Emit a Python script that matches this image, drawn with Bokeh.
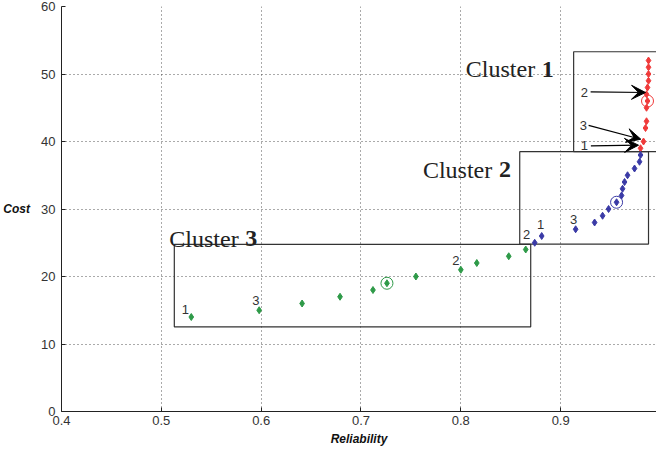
from bokeh.plotting import figure
from bokeh.models import ColumnDataSource, Arrow, VeeHead, FixedTicker
from bokeh.core.properties import value
from bokeh.embed import file_html
from bokeh.resources import INLINE

# ---- data ----
c1_rel = [0.988, 0.988, 0.988, 0.988, 0.987, 0.986, 0.987, 0.986, 0.986, 0.985, 0.983, 0.980]
c1_cost = [52, 51, 50, 49, 48, 47, 46, 45, 43, 42, 40, 39]
c2_rel = [0.874, 0.881, 0.915, 0.934, 0.942, 0.948, 0.956, 0.961, 0.962, 0.964, 0.967, 0.974, 0.979, 0.980]
c2_cost = [25, 26, 27, 28, 29, 30, 31, 32, 33, 34, 35, 36, 37, 38]
c3_rel = [0.530, 0.598, 0.641, 0.679, 0.712, 0.726, 0.755, 0.800, 0.816, 0.848, 0.865]
c3_cost = [14, 15, 16, 17, 18, 19, 20, 21, 22, 23, 24]

# highlighted (circled) solutions
hl_rel = [0.987, 0.956, 0.726]
hl_cost = [46, 31, 19]

# cluster boxes
box_left = [0.913, 0.859, 0.513]
box_right = [1.02, 0.988, 0.870]
box_bottom = [38.5, 24.8, 12.55]
box_top = [53.3, 38.5, 24.75]

# cluster titles
title_num = ["1", "2", "3"]
title_x = [0.805, 0.762, 0.508]
title_y = [50.7, 35.85, 25.6]

# small numeric labels
num_text = ["1", "3", "2", "2", "1", "3", "2", "3", "1"]
num_x = [0.524, 0.5947, 0.795, 0.866, 0.880, 0.913, 0.9237, 0.9227, 0.9237]
num_y = [15.1, 16.4, 22.4, 26.2, 27.7, 28.4, 47.26, 42.4, 39.36]

# arrows
arr_x0 = [0.930, 0.928, 0.9303]
arr_y0 = [47.36, 42.4, 39.36]
arr_x1 = [0.985, 0.9803, 0.978]
arr_y1 = [47.26, 40.34, 39.45]

x_ticks = [0.4, 0.5, 0.6, 0.7, 0.8, 0.9]
y_ticks = [0, 10, 20, 30, 40, 50, 60]

RED = "#f03a3a"
BLUE = "#3a3aa6"
GREEN = "#2e9a48"

p = figure(width=656, height=452, output_backend="svg", toolbar_location=None,
           x_range=(0.4, 0.996), y_range=(0, 60),
           min_border_left=60, min_border_right=0, min_border_top=6, min_border_bottom=41)
p.outline_line_color = None
p.background_fill_color = "white"

for ax in (p.xaxis[0], p.yaxis[0]):
    ax.axis_line_color = "#222222"
    ax.axis_line_width = 1
    ax.major_tick_in = 4
    ax.major_tick_out = 0
    ax.minor_tick_line_color = None
    ax.major_tick_line_color = "#222222"
    ax.major_label_text_font = "Liberation Sans"
    ax.major_label_text_font_size = "13px"
    ax.major_label_text_color = "#333333"
    ax.axis_label_text_font = "Liberation Sans"
    ax.axis_label_text_font_style = "bold italic"
    ax.axis_label_text_font_size = "12px"
    ax.axis_label_text_color = "#111111"

p.xaxis.ticker = FixedTicker(ticks=x_ticks)
p.yaxis.ticker = FixedTicker(ticks=y_ticks)
p.xaxis.axis_label = "Reliability"
p.yaxis.axis_label = "Cost"
p.yaxis.axis_label_orientation = "horizontal"
p.xaxis.major_label_standoff = 4
p.xaxis.axis_label_standoff = 4
p.yaxis.major_label_standoff = 6
p.yaxis.axis_label_standoff = 8

for g in (p.xgrid[0], p.ygrid[0]):
    g.grid_line_color = "#444444"
    g.grid_line_dash = "1 3"
    g.grid_line_width = 1
    g.grid_line_alpha = 0.9

# boxes
p.quad(left=box_left, right=box_right, bottom=box_bottom, top=box_top,
       fill_color=None, line_color="#333333", line_width=1.2)

# points
p.scatter(c1_rel, c1_cost, marker="diamond", size=7, color=RED)
p.scatter(c2_rel, c2_cost, marker="diamond", size=7, color=BLUE)
p.scatter(c3_rel, c3_cost, marker="diamond", size=7, color=GREEN)
p.scatter(hl_rel, hl_cost, marker="circle", size=12, fill_color=None,
          line_color=[RED, BLUE, GREEN], line_width=1)

# arrows
asrc = ColumnDataSource(dict(x0=arr_x0, y0=arr_y0, x1=arr_x1, y1=arr_y1))
p.add_layout(Arrow(x_start="x0", y_start="y0", x_end="x1", y_end="y1", source=asrc,
                   line_color="black", line_width=1.2,
                   end=VeeHead(size=14, fill_color="black", line_color="black")))

# small labels
p.text(num_x, num_y, text=num_text, text_font=value("Liberation Sans"),
       text_font_size="13px", text_color="#333333",
       text_align="center", text_baseline="middle")

# cluster titles
p.text(title_x, title_y, text=["Cluster"] * 3, text_font=value("Liberation Serif"),
       text_font_size="24px", text_color="#222222",
       text_align="left", text_baseline="alphabetic")
p.text(title_x, title_y, text=title_num, text_font=value("Liberation Serif"),
       text_font_size="24px", text_font_style="bold", text_color="#222222",
       text_align="left", text_baseline="alphabetic", x_offset=76)

open("out.html", "w").write(file_html(p, INLINE))
